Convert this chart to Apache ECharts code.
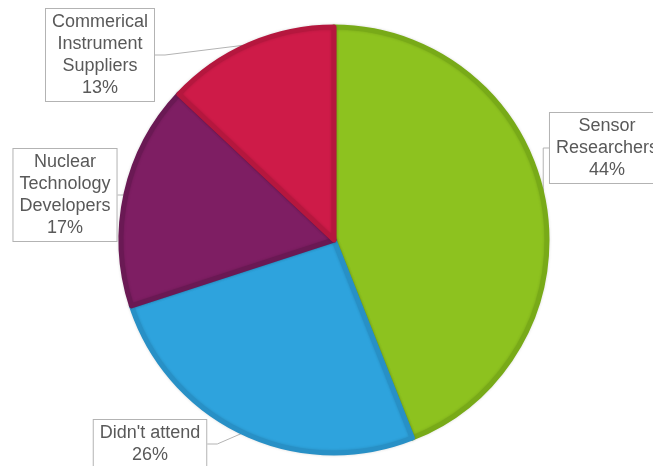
<!DOCTYPE html>
<html>
<head>
<meta charset="utf-8">
<script src="https://cdn.jsdelivr.net/npm/echarts@6/dist/echarts.min.js"></script>
<style>html,body{margin:0;padding:0;background:#fff;}#c{width:653px;height:466px;}</style>
</head>
<body>
<div id="c"></div>
<script>
var categories = ['Sensor Researchers', "Didn't attend", 'Nuclear Technology Developers', 'Commerical Instrument Suppliers'];
var labelLines = ['Sensor\nResearchers', "Didn't attend", 'Nuclear\nTechnology\nDevelopers', 'Commerical\nInstrument\nSuppliers'];
var values = [44, 26, 17, 13];
var colors = ['#8dc21f', '#2ea3dd', '#7e1e63', '#ce1b48'];
var borderColors = ['#78aa18', '#2890c6', '#6a1954', '#b5173e'];
var labelPos = [[607, 148], [150, 444], [65, 195], [100, 55]];

var chart = echarts.init(document.getElementById('c'));
var data = categories.map(function (c, i) {
  return {
    name: c,
    value: values[i],
    itemStyle: { color: colors[i], borderColor: borderColors[i] }
  };
});
chart.setOption({
  animation: false,
  series: [{
    type: 'pie',
    center: [334, 240],
    radius: [0, 213],
    startAngle: 90,
    clockwise: true,
    avoidLabelOverlap: false,
    itemStyle: { borderWidth: 5, borderJoin: 'round', shadowBlur: 3, shadowColor: 'rgba(0,0,0,0.15)' },
    label: {
      show: true,
      position: 'outside',
      formatter: function (p) { return labelLines[p.dataIndex] + '\n' + values[p.dataIndex] + '%'; },
      fontFamily: 'Liberation Sans, Arial, sans-serif',
      fontSize: 18,
      lineHeight: 22,
      color: '#595959',
      backgroundColor: '#ffffff',
      borderColor: '#b3b3b3',
      borderWidth: 1,
      padding: [4, 6, 0, 6],
      align: 'center'
    },
    labelLine: {
      show: true,
      length: 10,
      length2: 10,
      lineStyle: { color: '#b3b3b3', width: 1 }
    },
    labelLayout: function (params) {
      var p = labelPos[params.dataIndex];
      return { x: p[0], y: p[1], align: 'center', verticalAlign: 'middle', moveOverlap: false, hideOverlap: false };
    },
    emphasis: { disabled: true },
    data: data
  }]
});
</script>
</body>
</html>
